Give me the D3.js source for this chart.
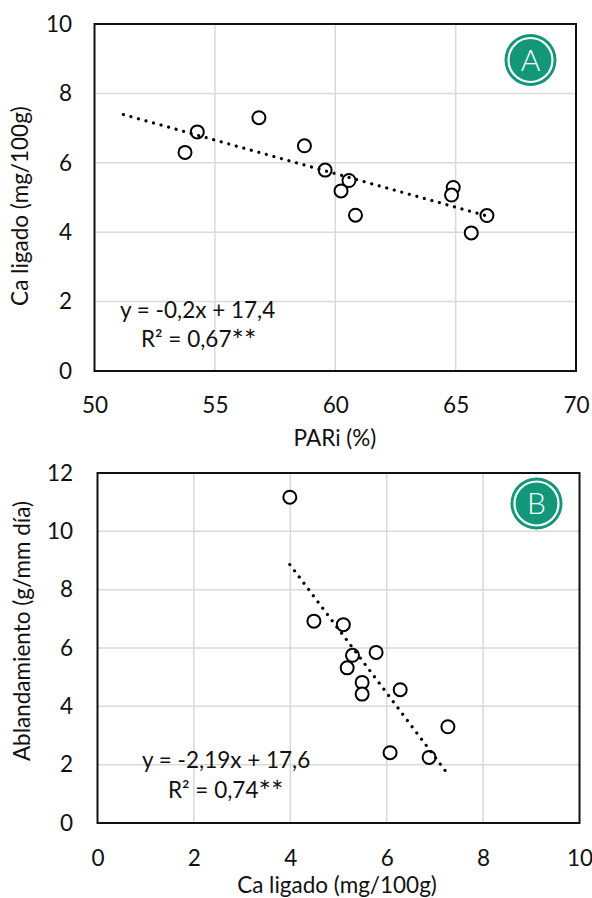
<!DOCTYPE html>
<html><head><meta charset="utf-8">
<script src="https://cdn.jsdelivr.net/npm/d3@7"></script>
<style>body{margin:0;background:#fff}text{font-family:Lato,"Open Sans",sans-serif;fill:#111}</style>
</head><body>
<svg id="c" width="592" height="898"></svg>
<script>
// Panel A data
const pariA = [53.76, 54.27, 56.83, 58.72, 59.58, 60.57, 60.24, 60.84, 64.90, 64.83, 66.30, 65.65];
const caA   = [6.30, 6.89, 7.30, 6.49, 5.79, 5.49, 5.19, 4.49, 5.29, 5.07, 4.48, 3.98];
const trendAx = [51.2, 66.4];
const trendAy = [7.39, 4.45];
const xTicksA = [50, 55, 60, 65, 70];
const yTicksA = [0, 2, 4, 6, 8, 10];
// Panel B data
const caB   = [3.99, 4.49, 5.10, 5.29, 5.78, 5.18, 5.49, 5.49, 6.28, 7.27, 6.07, 6.88];
const ablB  = [11.17, 6.92, 6.80, 5.75, 5.85, 5.32, 4.82, 4.42, 4.57, 3.30, 2.41, 2.25];
const trendBx = [3.99, 7.29];
const trendBy = [8.86, 1.63];
const xTicksB = [0, 2, 4, 6, 8, 10];
const yTicksB = [0, 2, 4, 6, 8, 10, 12];

const svg = d3.select("#c");
const teal = "#139779";
const FS = 22.5;

function panel(o){
  const g = svg.append("g");
  const x = d3.scaleLinear().domain(o.xd).range([o.l, o.r]);
  const y = d3.scaleLinear().domain(o.yd).range([o.b, o.t]);
  // gridlines
  g.append("g").selectAll("line").data(o.xt.slice(1,-1)).join("line")
    .attr("x1", d=>x(d)).attr("x2", d=>x(d)).attr("y1", o.t).attr("y2", o.b)
    .attr("stroke", "#d9d9d9").attr("stroke-width", 1.5);
  g.append("g").selectAll("line").data(o.yt.slice(1,-1)).join("line")
    .attr("y1", d=>y(d)).attr("y2", d=>y(d)).attr("x1", o.l).attr("x2", o.r)
    .attr("stroke", "#d9d9d9").attr("stroke-width", 1.5);
  // axes via d3 axis (labels only)
  const xa = g.append("g").attr("transform", `translate(0,${o.b})`)
    .call(d3.axisBottom(x).tickValues(o.xt).tickSize(0).tickPadding(o.xpad).tickFormat(d3.format("d")));
  xa.select(".domain").remove();
  xa.selectAll("text").style("font-size", FS+"px").style("font-family", "Lato").attr("fill", "#111");
  const ya = g.append("g").attr("transform", `translate(${o.l},0)`)
    .call(d3.axisLeft(y).tickValues(o.yt).tickSize(0).tickPadding(o.ypad).tickFormat(d3.format("d")));
  ya.select(".domain").remove();
  ya.selectAll("text").style("font-size", FS+"px").style("font-family", "Lato").attr("fill", "#111");
  // frame
  g.append("rect").attr("x", o.l).attr("y", o.t).attr("width", o.r-o.l).attr("height", o.b-o.t)
    .attr("fill", "none").attr("stroke", "#111").attr("stroke-width", 2);
  // points
  g.append("g").selectAll("circle").data(o.xs.map((v,i)=>[v,o.ys[i]])).join("circle")
    .attr("cx", d=>x(d[0])).attr("cy", d=>y(d[1])).attr("r", 6.5)
    .attr("fill", "#fff").attr("stroke", "#000").attr("stroke-width", 2);
  // trend line
  g.append("line")
    .attr("x1", x(o.tx[0])).attr("y1", y(o.ty[0])).attr("x2", x(o.tx[1])).attr("y2", y(o.ty[1]))
    .attr("stroke", "#000").attr("stroke-width", 3.2).attr("stroke-linecap", "round")
    .attr("stroke-dasharray", "0.01 7.8");
  // equation
  g.append("text").attr("x", o.eq[0]).attr("y", o.eq[1]).style("font-size", FS+"px").text(o.eqText);
  const r2 = g.append("text").attr("x", o.r2[0]).attr("y", o.r2[1]).style("font-size", FS+"px");
  r2.append("tspan").text(o.r2Text);
  r2.append("tspan").style("font-size", (FS*1.3)+"px").attr("dy", 4).text("**");
  // axis titles
  g.append("text").attr("x", o.xtitle[0]).attr("y", o.xtitle[1]).attr("text-anchor", "middle")
    .style("font-size", FS+"px").text(o.xLabel);
  g.append("text").attr("transform", `translate(${o.ytitle[0]},${o.ytitle[1]}) rotate(-90)`)
    .attr("text-anchor", "middle").style("font-size", FS+"px").text(o.yLabel);
  // badge
  const bg = g.append("g").attr("transform", `translate(${o.badge[0]},${o.badge[1]})`);
  bg.append("circle").attr("r", 26).attr("fill", teal);
  bg.append("circle").attr("r", 22).attr("fill", "none").attr("stroke", "#fff").attr("stroke-width", 2.2);
  bg.append("text").attr("text-anchor", "middle").attr("y", 10.5).style("font-size", "30px")
    .style("font-weight", "300").style("fill", "#fff").text(o.letter);
}

panel({xd:[50,70], yd:[0,10], l:94.5, r:576, t:24, b:371, xt:xTicksA, yt:yTicksA,
  xs:pariA, ys:caA, tx:trendAx, ty:trendAy, xpad:26, ypad:22.5,
  eq:[120,318], eqText:"y = -0,2x + 17,4", r2:[141,347], r2Text:"R² = 0,67",
  xtitle:[335,446], xLabel:"PARi (%)", ytitle:[28,206], yLabel:"Ca ligado (mg/100g)",
  badge:[530.5,60], letter:"A"});

panel({xd:[0,10], yd:[0,12], l:97.5, r:579.5, t:473, b:823, xt:xTicksB, yt:yTicksB,
  xs:caB, ys:ablB, tx:trendBx, ty:trendBy, xpad:27, ypad:24.5,
  eq:[142,768], eqText:"y = -2,19x + 17,6", r2:[168,798], r2Text:"R² = 0,74",
  xtitle:[337,893], xLabel:"Ca ligado (mg/100g)", ytitle:[30,631], yLabel:"Ablandamiento (g/mm día)",
  badge:[536.5,503.5], letter:"B"});
</script>
</body></html>
